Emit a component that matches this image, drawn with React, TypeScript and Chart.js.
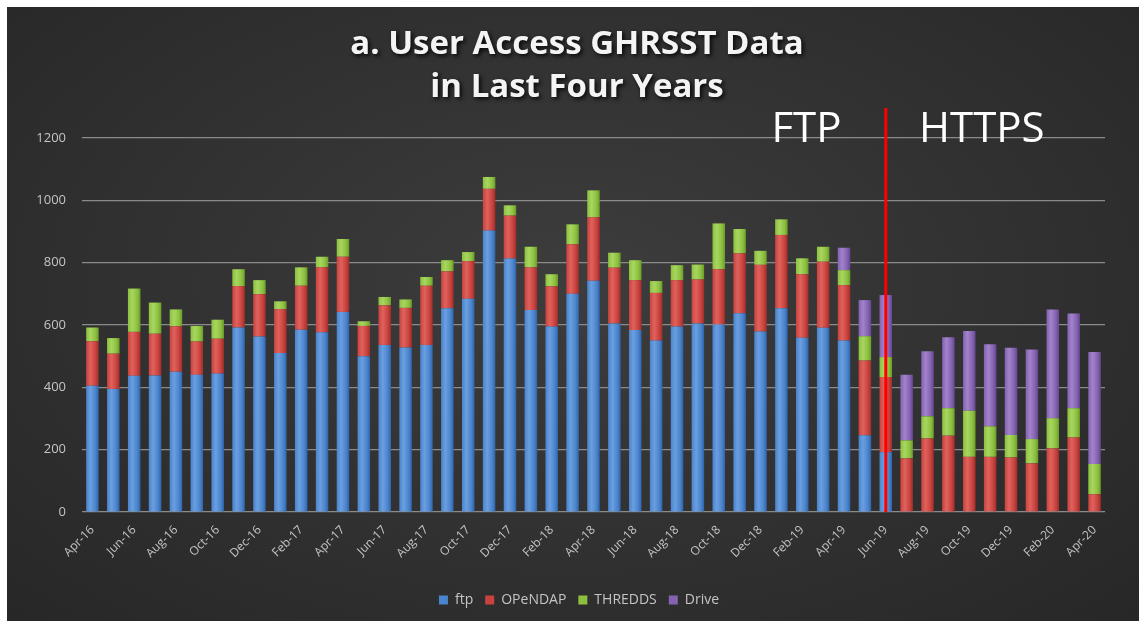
import React, { useEffect, useRef } from "react";
import { Chart, registerables } from "chart.js";

Chart.register(...registerables);

const months = [
  "Apr-16", "May-16", "Jun-16", "Jul-16", "Aug-16", "Sep-16", "Oct-16", "Nov-16", "Dec-16", "Jan-17", "Feb-17", "Mar-17",
  "Apr-17", "May-17", "Jun-17", "Jul-17", "Aug-17", "Sep-17", "Oct-17", "Nov-17", "Dec-17", "Jan-18", "Feb-18", "Mar-18",
  "Apr-18", "May-18", "Jun-18", "Jul-18", "Aug-18", "Sep-18", "Oct-18", "Nov-18", "Dec-18", "Jan-19", "Feb-19", "Mar-19",
  "Apr-19", "May-19", "Jun-19", "Jul-19", "Aug-19", "Sep-19", "Oct-19", "Nov-19", "Dec-19", "Jan-20", "Feb-20", "Mar-20",
  "Apr-20",
];

const ftp = [
  405, 395, 437, 438, 450, 440, 444, 592, 563, 510, 585, 577,
  642, 500, 536, 528, 536, 654, 684, 903, 813, 648, 595, 700,
  742, 605, 584, 550, 595, 605, 602, 638, 579, 654, 559, 591,
  550, 246, 192, 0, 0, 0, 0, 0, 0, 0, 0, 0,
  0,
];
const opendap = [
  143, 113, 141, 134, 146, 107, 112, 133, 136, 141, 141, 208,
  177, 97, 127, 127, 190, 118, 121, 134, 138, 137, 129, 159,
  204, 179, 160, 153, 149, 141, 177, 192, 214, 235, 204, 212,
  178, 240, 241, 172, 236, 245, 177, 177, 175, 156, 204, 239,
  57,
];
const thredds = [
  44, 50, 139, 100, 54, 50, 61, 54, 45, 25, 59, 34,
  57, 15, 27, 27, 28, 36, 29, 38, 33, 66, 39, 64,
  86, 48, 64, 38, 48, 48, 147, 78, 45, 50, 51, 48,
  48, 78, 64, 58, 71, 88, 148, 98, 72, 78, 97, 94,
  97,
];
const drive = [
  0, 0, 0, 0, 0, 0, 0, 0, 0, 0, 0, 0,
  0, 0, 0, 0, 0, 0, 0, 0, 0, 0, 0, 0,
  0, 0, 0, 0, 0, 0, 0, 0, 0, 0, 0, 0,
  72, 116, 199, 210, 209, 228, 256, 263, 280, 287, 349, 304,
  359,
];

const titleLines = ["a. User Access GHRSST Data", "in Last Four Years"];
const ftpLabel = "FTP";
const httpsLabel = "HTTPS";
const switchIndex = 38; // Jun-19
const yTicks = [0, 200, 400, 600, 800, 1000, 1200];

const colors = {
  ftp: ["#6a9fe0", "#4a84cc", "#2f63a8"],
  opendap: ["#e0625c", "#c8423e", "#9e2d2a"],
  thredds: ["#a8d660", "#8cc03f", "#6a9a2a"],
  drive: ["#a283cb", "#8462b0", "#634690"],
};

const BAR_PCT = 0.6;

function shaded(stops: string[]) {
  return (c: any) => {
    const chart = c.chart;
    const x = chart.scales && chart.scales.x;
    if (!x || c.dataIndex === undefined || !isFinite(x.width) || x.width <= 0) return stops[1];
    const cx = x.getPixelForValue(c.dataIndex);
    const w = (x.width / months.length) * BAR_PCT;
    const g = chart.ctx.createLinearGradient(cx - w / 2, 0, cx + w / 2, 0);
    g.addColorStop(0, stops[1]);
    g.addColorStop(0.35, stops[0]);
    g.addColorStop(0.75, stops[1]);
    g.addColorStop(1, stops[2]);
    return g;
  };
}

const overlayPlugin = {
  id: "overlay",
  afterDatasetsDraw(chart: any) {
    const { ctx, scales } = chart;
    const x = scales.x;
    const y = scales.y;
    ctx.save();
    const lx = x.getPixelForValue(switchIndex);
    ctx.strokeStyle = "#ff0000";
    ctx.lineWidth = 3;
    ctx.beginPath();
    ctx.moveTo(lx, y.getPixelForValue(0));
    ctx.lineTo(lx, y.getPixelForValue(1296));
    ctx.stroke();

    ctx.fillStyle = "#ffffff";
    ctx.font = '42px "Open Sans"';
    ctx.textAlign = "center";
    ctx.textBaseline = "middle";
    ctx.fillText(ftpLabel, x.getPixelForValue(34.2), y.getPixelForValue(1226));
    ctx.fillText(httpsLabel, x.getPixelForValue(42.6), y.getPixelForValue(1226));

    ctx.shadowColor = "rgba(0,0,0,0.85)";
    ctx.shadowBlur = 4;
    ctx.shadowOffsetX = 2;
    ctx.shadowOffsetY = 2;
    ctx.font = 'bold 33px "Open Sans"';
    ctx.fillStyle = "#f4f4f4";
    ctx.fillText(titleLines[0], 570, 38);
    ctx.fillText(titleLines[1], 570, 81);
    ctx.restore();
  },
};

export default function App() {
  const ref = useRef<HTMLCanvasElement | null>(null);
  useEffect(() => {
    if (!ref.current) return;
    const chart = new Chart(ref.current, {
      type: "bar",
      data: {
        labels: months,
        datasets: [
          { label: "ftp", data: ftp, backgroundColor: shaded(colors.ftp) },
          { label: "OPeNDAP", data: opendap, backgroundColor: shaded(colors.opendap) },
          { label: "THREDDS", data: thredds, backgroundColor: shaded(colors.thredds) },
          { label: "Drive", data: drive, backgroundColor: shaded(colors.drive) },
        ],
      },
      options: {
        responsive: false,
        animation: false,
        layout: { padding: { top: 131, right: 0, left: 12, bottom: 4 } },
        datasets: {
          bar: { barPercentage: BAR_PCT, categoryPercentage: 1.0 },
        },
        scales: {
          x: {
            stacked: true,
            grid: { display: false },
            border: { display: false },
            ticks: {
              autoSkip: false,
              maxRotation: 45,
              minRotation: 45,
              color: "#c4c4c4",
              font: { family: "Open Sans", size: 12 },
              callback: (_v: any, i: number) => (i % 2 === 0 ? months[i] : ""),
            },
            afterFit: (s: any) => {
              s.height = 69;
            },
          },
          y: {
            stacked: true,
            min: 0,
            max: 1200,
            afterBuildTicks: (s: any) => {
              s.ticks = yTicks.map((v) => ({ value: v }));
            },
            grid: { color: "#8a8a8a", lineWidth: 1.2, drawTicks: false },
            border: { display: false },
            ticks: {
              color: "#c4c4c4",
              padding: 16,
              font: { family: "Open Sans", size: 13 },
              callback: (v: any) => String(v),
            },
            afterFit: (s: any) => {
              s.width = 63;
            },
          },
          yRight: {
            position: "right",
            display: true,
            grid: { display: false },
            border: { display: false },
            ticks: { display: false },
            afterFit: (s: any) => {
              s.width = 34;
            },
          },
        },
        plugins: {
          legend: {
            position: "bottom",
            labels: {
              color: "#c4c4c4",
              boxWidth: 9,
              boxHeight: 9,
              padding: 12,
              font: { family: "Open Sans", size: 14 },
              generateLabels: (chart: any) =>
                chart.data.datasets.map((d: any, i: number) => {
                  const key = ["ftp", "opendap", "thredds", "drive"][i] as keyof typeof colors;
                  return {
                    text: d.label,
                    fillStyle: colors[key][1],
                    strokeStyle: colors[key][1],
                    lineWidth: 0,
                    fontColor: "#c4c4c4",
                    hidden: false,
                    datasetIndex: i,
                  };
                }),
            },
          },
          title: { display: false },
          tooltip: { enabled: false },
        },
      },
      plugins: [overlayPlugin],
    } as any);
    return () => chart.destroy();
  }, []);

  return (
    <div
      style={{
        position: "absolute",
        left: 7,
        top: 7,
        width: 1132,
        height: 614,
        background:
          "radial-gradient(ellipse at 50% 45%, #3d3d3d 0%, #333333 45%, #272727 100%)",
      }}
    >
      <canvas ref={ref} width={1132} height={614} style={{ display: "block" }} />
    </div>
  );
}
